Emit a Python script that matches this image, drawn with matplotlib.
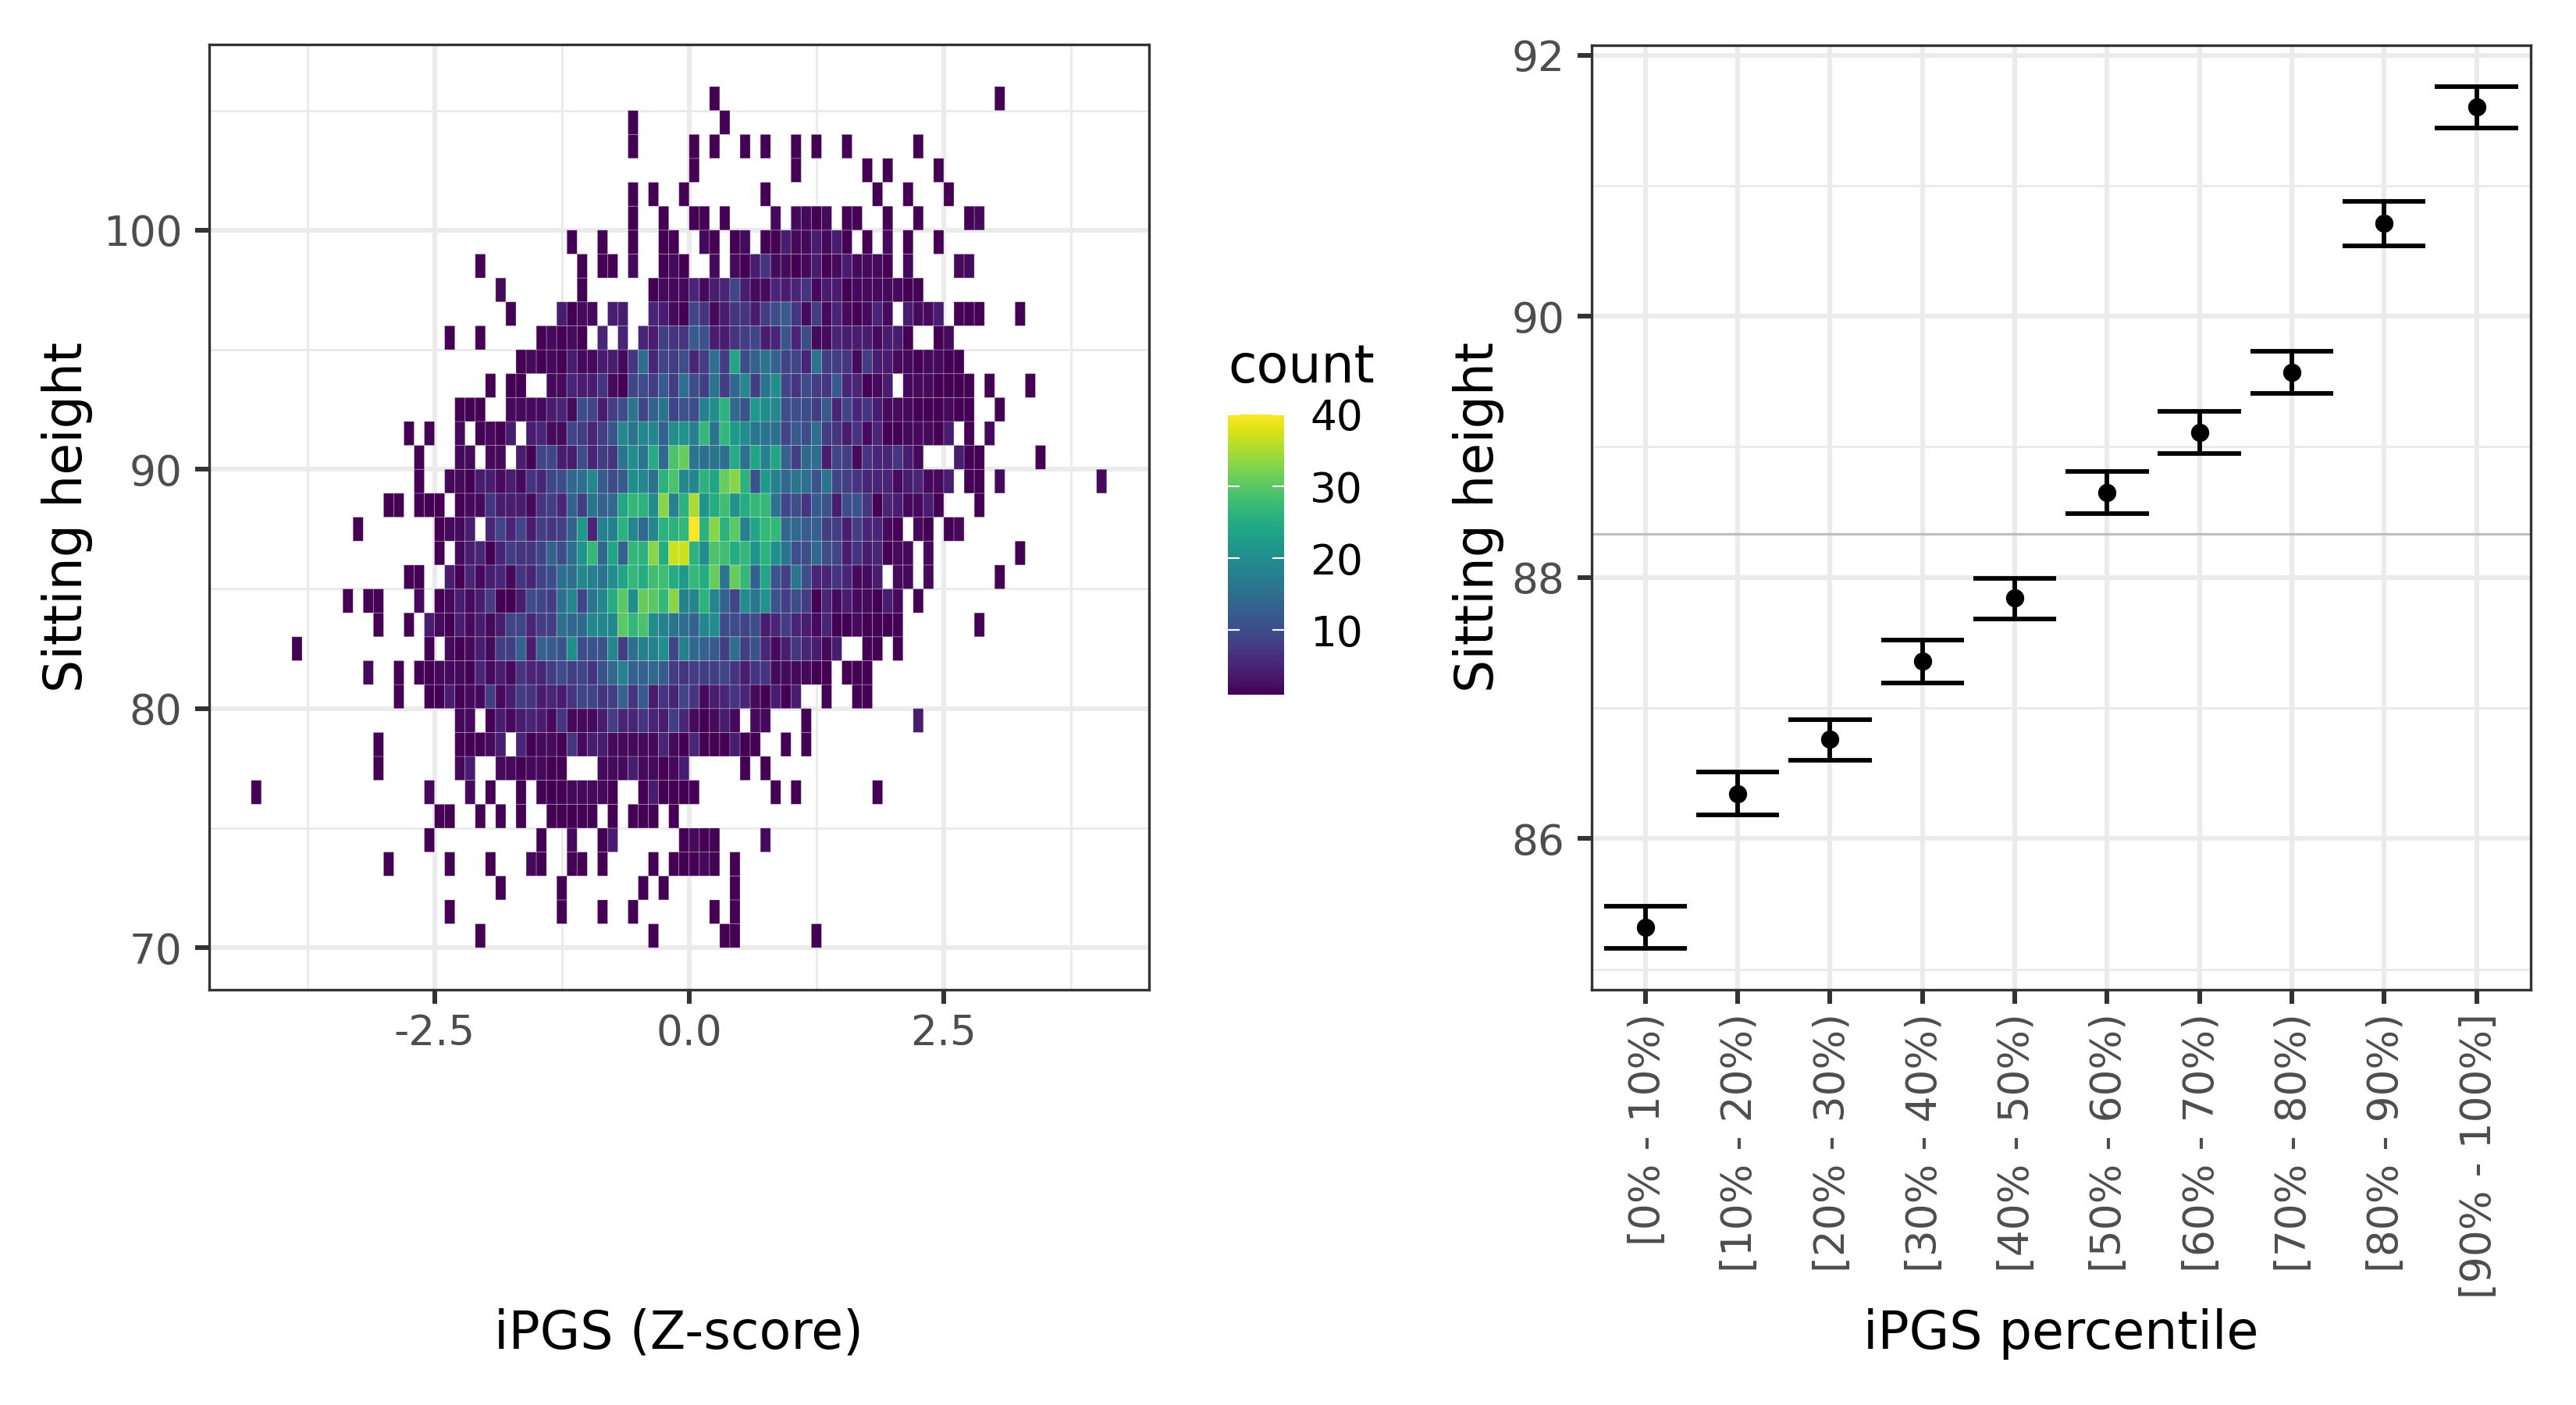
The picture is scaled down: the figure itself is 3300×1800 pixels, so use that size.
import matplotlib
matplotlib.use('Agg')
import matplotlib.pyplot as plt
import matplotlib.transforms as mtransforms
import numpy as np

plt.rcParams['font.family'] = 'DejaVu Sans'
plt.rcParams['axes.unicode_minus'] = False

# counts per row of the 2d histogram, as runs of (first x bin, counts)
# x bins are 0.1 wide (bin k covers k/10 .. (k+1)/10), y bins are 1 wide
row_105 = [(2, [1]), (30, [1])]
row_104 = [(-6, [1]), (3, [1])]
row_103 = [(-6, [1]), (0, [1]), (2, [1]), (5, [1]), (7, [1]), (10, [1]), (12, [1]), (15, [1]), (22, [1])]
row_102 = [(0, [1]), (10, [1]), (17, [1]), (19, [1]), (24, [1])]
row_101 = [(-6, [1]), (-4, [1]), (-1, [1]), (7, [1]), (18, [1]), (21, [1]), (25, [1])]
row_100 = [(-6, [1]), (-3, [1]), (0, [1, 1]), (3, [1]), (8, [2]), (10, [2, 2, 1, 2]), (15, [1, 1]), (19, [1]),
           (22, [1]), (27, [1, 2])]
row_99 = [(-12, [1]), (-9, [1]), (-6, [1]), (-3, [1, 1]), (1, [2, 1]), (4, [1, 2]),
          (7, [1, 1, 4, 2, 2, 4, 2, 4, 1]), (17, [1]), (19, [2]), (21, [1]), (24, [1])]
row_98 = [(-21, [1]), (-11, [1]), (-9, [1, 1]), (-6, [2]), (-3, [1, 2, 1]), (2, [2]),
          (4, [2, 1, 4, 7, 2, 2, 1, 2, 4, 1, 2, 4, 2, 2, 2, 1]), (21, [2]), (26, [2, 2])]
row_97 = [(-19, [2]), (-11, [1]),
          (-4, [1, 2, 2, 2, 5, 2, 4, 5, 9, 4, 2, 2, 5, 4, 5, 7, 2, 4, 4, 1, 2, 2, 2, 2, 2, 1, 1])]
row_96 = [(-18, [1]), (-13, [4, 1, 2, 2]), (-8, [4, 4]),
          (-4, [5, 4, 2, 1, 9, 7, 2, 4, 7, 7, 4, 8, 10, 12, 7, 2, 8, 2, 5, 2, 1, 2, 5, 2]),
          (21, [4, 2, 2, 4]), (26, [1, 1, 1]), (32, [1])]
row_95 = [(-24, [1]), (-21, [1]), (-15, [1, 2, 1, 2, 1]), (-9, [5]), (-7, [5]),
          (-5, [5, 4, 8, 7, 7, 12, 11, 4, 4, 7, 8, 9, 4, 5, 11, 5, 10, 2, 2, 5, 4, 4, 4, 2, 4, 4, 1]), (24, [1, 2])]
row_94 = [(-17, [1, 2, 1, 2, 1, 4, 2, 2, 4, 4, 2, 7, 15, 5, 9, 8, 10, 5, 8, 15, 8, 24, 10, 13, 16, 13, 9, 9, 5, 16,
                 8, 8, 7, 2, 8, 4, 4, 2, 2, 1, 2, 2, 1, 1])]
row_93 = [(-20, [1]), (-18, [1, 1]),
          (-14, [2, 2, 5, 4, 4, 7, 2, 1, 9, 10, 8, 12, 8, 15, 10, 8, 16, 8, 14, 19, 8, 16, 20, 9, 7, 10, 8, 7, 12, 5,
                 5, 1, 2, 4]),
          (21, [2, 2, 2, 1, 1, 1, 1]), (29, [1]), (33, [1])]
row_92 = [(-23, [1, 1, 1]),
          (-18, [2, 2, 2, 2, 4, 5, 2, 10, 9, 4, 8, 10, 16, 9, 13, 16, 9, 11, 10, 18, 20, 26, 14, 11, 22, 20, 19, 10,
                 10, 10, 8, 12, 5, 9, 5, 7, 4, 2, 2, 2, 1, 1, 1, 2, 1, 1]),
          (30, [1])]
row_91 = [(-28, [1]), (-26, [1]), (-23, [2]), (-21, [1, 2, 1, 4]),
          (-16, [4, 5, 2, 2, 9, 8, 5, 8, 11, 19, 16, 19, 19, 13, 20, 21, 18, 27, 16, 27, 22, 20, 16, 16, 15, 9, 12,
                 10, 15, 8, 7, 4, 7, 2, 5, 1, 1, 2, 2, 2, 1, 4]),
          (27, [1]), (29, [2])]
row_90 = [(-27, [1]), (-23, [2, 2]), (-20, [2, 2]),
          (-17, [4, 1, 9, 9, 4, 4, 10, 5, 8, 7, 16, 20, 16, 25, 14, 29, 31, 16, 15, 16, 15, 25, 15, 24, 18, 24, 13,
                 8, 14, 15, 4, 9, 8, 2, 7, 5, 5, 7, 4, 2]),
          (26, [4, 1, 1]), (34, [1])]
row_89 = [(-27, [1]),
          (-24, [2, 2, 1, 4, 4, 2, 4, 2, 7, 5, 9, 10, 14, 15, 19, 12, 10, 12, 20, 19, 15, 26, 29, 19, 19, 26, 24, 31,
                 33, 26, 11, 22, 18, 14, 16, 15, 11, 16, 9, 8, 7, 5, 5, 5, 2, 4, 5, 2, 2, 4]),
          (27, [1, 1]), (30, [2]), (40, [2])]
row_88 = [(-30, [1, 1]), (-27, [1, 1, 1]),
          (-23, [1, 2, 2, 7, 4, 4, 4, 2, 7, 8, 5, 13, 8, 16, 13, 14, 24, 27, 26, 20, 33, 18, 26, 35, 21, 25, 28, 21,
                 25, 27, 27, 16, 9, 10, 7, 12, 11, 4, 10, 11, 7, 1, 5, 4, 2, 2, 4, 1]),
          (28, [1])]
row_87 = [(-33, [1]), (-25, [1, 2, 2, 4]),
          (-20, [5, 9, 5, 9, 4, 8, 7, 8, 13, 22, 5, 18, 18, 26, 19, 14, 19, 26, 26, 27, 40, 26, 33, 26, 30, 18, 24,
                 27, 27, 14, 14, 12, 13, 8, 8, 4, 8, 5, 5, 2, 1]),
          (22, [2, 1]), (25, [1, 2])]
row_86 = [(-25, [1]),
          (-23, [2, 4, 5, 1, 5, 8, 7, 7, 9, 13, 10, 15, 21, 27, 14, 24, 13, 27, 26, 33, 25, 37, 37, 26, 20, 29, 28,
                 25, 27, 21, 26, 20, 16, 10, 10, 14, 10, 9, 4, 7, 4, 5, 1, 2, 2]),
          (23, [2]), (32, [1])]
row_85 = [(-28, [1, 1]),
          (-24, [4, 1, 5, 2, 4, 5, 2, 7, 5, 9, 10, 15, 15, 19, 18, 16, 20, 24, 27, 25, 28, 28, 25, 22, 27, 25, 31, 16,
                 31, 27, 13, 24, 11, 8, 16, 10, 5, 5, 7, 5, 2, 2, 4]),
          (20, [2, 2]), (23, [2]), (30, [1])]
row_84 = [(-34, [1]), (-32, [1, 1]), (-27, [2]),
          (-25, [1, 2, 4, 2, 4, 8, 1, 1, 4, 10, 9, 8, 15, 19, 9, 16, 19, 25, 30, 20, 31, 30, 27, 33, 18, 19, 26, 19,
                 13, 9, 20, 16, 21, 11, 8, 10, 8, 1, 5, 2, 4, 2, 2, 1, 4, 2]),
          (22, [1])]
row_83 = [(-31, [1]), (-28, [1]),
          (-26, [4, 2, 1, 4, 2, 4, 2, 4, 9, 9, 5, 8, 8, 15, 14, 14, 19, 19, 19, 30, 27, 29, 20, 18, 16, 15, 13, 19,
                 20, 10, 10, 9, 10, 4, 5, 8, 5, 4, 2, 5, 1, 1, 2, 1, 1, 1, 1]),
          (28, [1])]
row_82 = [(-39, [1]), (-26, [1]),
          (-24, [2, 1, 2, 4, 2, 8, 8, 13, 4, 13, 12, 11, 20, 10, 11, 11, 19, 8, 15, 18, 18, 20, 9, 18, 14, 13, 12, 8,
                 15, 8, 11, 5, 2, 4, 7, 5, 4, 2, 4]),
          (17, [1, 1]), (20, [1])]
row_81 = [(-32, [2]), (-29, [1]),
          (-27, [1, 1, 2, 2, 2, 1, 5, 2, 4, 2, 7, 5, 5, 8, 10, 8, 9, 7, 11, 14, 18, 13, 13, 14, 12, 8, 7, 8, 8, 8, 9,
                 7, 4, 7, 7, 2, 2, 2, 2, 1, 1]),
          (15, [1, 1, 1])]
row_80 = [(-29, [1]),
          (-26, [1, 1, 4, 1, 2, 2, 8, 2, 4, 8, 7, 4, 5, 4, 7, 9, 9, 7, 8, 13, 7, 12, 4, 7, 5, 9, 7, 2, 4, 5, 7, 5, 2,
                 1, 4, 1, 4]),
          (13, [1]), (16, [1, 1])]
row_79 = [(-23, [2, 2]),
          (-20, [1, 4, 2, 4, 5, 4, 2, 7, 2, 2, 2, 4, 8, 5, 5, 7, 5, 4, 8, 5, 2, 1, 2, 4, 2]),
          (6, [2, 2]), (11, [1]), (22, [4])]
row_78 = [(-31, [1]), (-23, [1, 1, 1, 2, 4]),
          (-17, [5, 1, 2, 2, 1, 7, 2, 4, 4, 2, 2, 2, 2, 2, 5, 2, 1, 5, 1, 1, 1, 4, 1, 1]),
          (9, [1]), (11, [1])]
row_77 = [(-31, [1]), (-23, [2, 4]), (-19, [2, 2, 1, 2, 2, 1, 1]), (-9, [2, 2, 2, 4, 2, 2, 1, 2, 4]), (5, [1]), (7, [1])]
row_76 = [(-43, [1]), (-26, [2]), (-22, [2]), (-20, [1]), (-17, [1]), (-15, [1, 1, 1, 2, 2, 2, 2, 1]),
          (-5, [1, 4, 1, 1, 1, 1]), (8, [1]), (10, [1]), (18, [1])]
row_75 = [(-25, [1, 1]), (-21, [1]), (-19, [1]), (-17, [1]), (-14, [1, 1, 1, 1, 1]), (-8, [1]), (-6, [1, 1, 1]), (-2, [1])]
row_74 = [(-26, [1]), (-15, [1]), (-12, [2]), (-9, [1, 4]), (-1, [1, 2, 1, 1]), (7, [2])]
row_73 = [(-30, [1]), (-24, [1]), (-20, [1]), (-16, [2, 1]), (-12, [1, 1]), (-9, [1]), (-4, [1]), (-2, [1, 1, 1, 2, 1]), (4, [1])]
row_72 = [(-19, [1]), (-13, [1]), (-5, [1]), (-3, [1]), (4, [1])]
row_71 = [(-24, [1]), (-13, [1]), (-9, [1]), (-6, [1]), (2, [1]), (4, [1])]
row_70 = [(-21, [1]), (-4, [1]), (3, [1, 1]), (12, [1])]

rows = [row_70, row_71, row_72, row_73, row_74, row_75, row_76, row_77, row_78, row_79, row_80, row_81,
        row_82, row_83, row_84, row_85, row_86, row_87, row_88, row_89, row_90, row_91, row_92, row_93,
        row_94, row_95, row_96, row_97, row_98, row_99, row_100, row_101, row_102, row_103, row_104, row_105]

# right panel
percentile_labels = ['[0% - 10%)', '[10% - 20%)', '[20% - 30%)', '[30% - 40%)', '[40% - 50%)',
                     '[50% - 60%)', '[60% - 70%)', '[70% - 80%)', '[80% - 90%)', '[90% - 100%]']
means = [85.32, 86.34, 86.76, 87.36, 87.84, 88.65, 89.11, 89.57, 90.71, 91.60]
lower = [85.16, 86.18, 86.60, 87.19, 87.68, 88.49, 88.95, 89.41, 90.54, 91.44]
upper = [85.48, 86.51, 86.91, 87.52, 87.99, 88.81, 89.27, 89.73, 90.88, 91.76]
overall_mean = 88.33

W, H = 3300, 1800
GRID = '#EBEBEB'
DARK = '#333333'
TICKTXT = '#4D4D4D'


def px_axes(left, top, right, bottom):
    return plt.gcf().add_axes([left / W, 1 - bottom / H, (right - left) / W, (bottom - top) / H])


def style_axes(ax):
    ax.set_axisbelow(True)
    ax.grid(which='major', color=GRID, linewidth=1.45)
    ax.grid(which='minor', color=GRID, linewidth=0.72)
    ax.tick_params(which='major', length=4.3, width=1.45, color=DARK, labelcolor=TICKTXT, labelsize=12.8, pad=4)
    ax.tick_params(which='minor', length=0)
    for spine in ax.spines.values():
        spine.set_color(DARK)
        spine.set_linewidth(0.8)
        spine.set_zorder(5)


fig = plt.figure(figsize=(11, 6), dpi=300)

# left: 2d histogram
ax1 = px_axes(268, 57, 1471.5, 1267.5)
x_edges = np.arange(-44, 42) / 10
y_edges = np.arange(70, 107)
counts = np.zeros((len(y_edges) - 1, len(x_edges) - 1))
for i, row in enumerate(rows):
    for first, values in row:
        for j, v in enumerate(values):
            counts[i, first + 44 + j] = v
# pcolor drops the empty cells, so the pale rim only goes round real cells
mesh = ax1.pcolor(x_edges, y_edges, np.ma.masked_equal(counts, 0), cmap='viridis', vmin=1, vmax=40,
                  edgecolors=(1, 1, 1, 0.3), linewidth=0.2, zorder=2)
ax1.set_xlim(-4.712, 4.512)
ax1.set_ylim(68.26, 107.76)
ax1.set_xticks([-2.5, 0, 2.5])
ax1.set_xticklabels(['-2.5', '0.0', '2.5'])
ax1.set_xticks([-3.75, -1.25, 1.25, 3.75], minor=True)
ax1.set_yticks([70, 80, 90, 100])
ax1.set_yticks([75, 85, 95, 105], minor=True)
style_axes(ax1)
ax1.tick_params(axis='x', which='major', pad=3)
ax1.set_xlabel('iPGS (Z-score)', fontsize=16, va='center')
ax1.xaxis.set_label_coords(870 / W, 1 - 1709 / H, transform=fig.transFigure)
ax1.set_ylabel('Sitting height', fontsize=16, va='center')
ax1.yaxis.set_label_coords(86 / W, 1 - 662 / H, transform=fig.transFigure)

# colour bar
cax = px_axes(1572.7, 531, 1645, 890)
cb = fig.colorbar(mesh, cax=cax, ticks=[10, 20, 30, 40])
cb.outline.set_visible(False)
cax.tick_params(left=True, right=True, direction='in', length=3.6, width=0.5, color='white',
                labelsize=12.8, labelcolor='black', pad=8)
fig.text(1573 / W, 1 - 471 / H, 'count', fontsize=16, va='center', ha='left')

# right: means per percentile
ax2 = px_axes(2039, 58, 3242, 1267.5)
x = np.arange(1, 11)
ax2.axhline(overall_mean, color='#BEBEBE', linewidth=0.75, zorder=1.5)
ax2.errorbar(x, means, yerr=[np.array(means) - np.array(lower), np.array(upper) - np.array(means)], fmt='o',
             color='black', markersize=5.6, markeredgewidth=0, elinewidth=1.4, capsize=0, zorder=3)
ax2.hlines(lower + upper, list(x - 0.45) * 2, list(x + 0.45) * 2, color='black', linewidth=1.4, zorder=3)
ax2.set_xlim(0.418, 10.587)
ax2.set_ylim(84.845, 92.075)
ax2.set_xticks(x)
ax2.set_xticklabels(percentile_labels, rotation=90, ha='center', va='top')
ax2.set_yticks([86, 88, 90, 92])
ax2.set_yticks([85, 87, 89, 91], minor=True)
style_axes(ax2)
ax2.tick_params(axis='x', which='major', pad=3)
# the rotated labels sit a few pixels right of their ticks in the original
nudge = mtransforms.ScaledTranslation(3 / 300, 0, fig.dpi_scale_trans)
for lab in ax2.get_xticklabels():
    lab.set_transform(lab.get_transform() + nudge)
ax2.set_xlabel('iPGS percentile', fontsize=16, va='center')
ax2.xaxis.set_label_coords(2640 / W, 1 - 1709 / H, transform=fig.transFigure)
ax2.set_ylabel('Sitting height', fontsize=16, va='center')
ax2.yaxis.set_label_coords(1894 / W, 1 - 662 / H, transform=fig.transFigure)

fig.savefig('out.png', dpi=300, facecolor='white')
